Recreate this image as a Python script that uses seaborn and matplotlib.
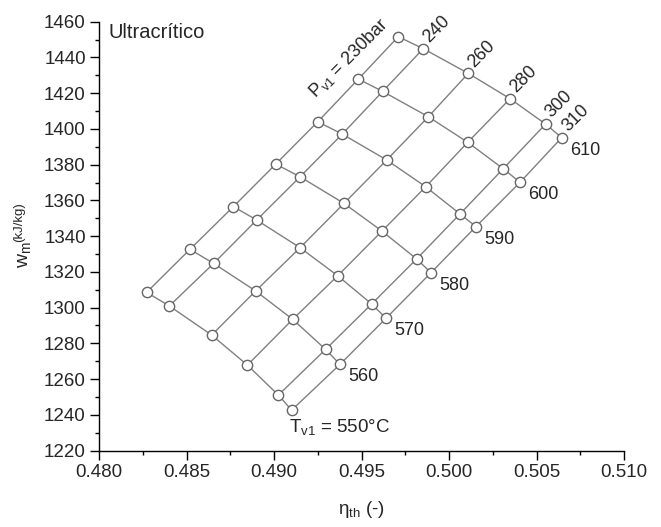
import numpy as np
import pandas as pd
import matplotlib
matplotlib.use("Agg")
import matplotlib.pyplot as plt
import seaborn as sns
from matplotlib.ticker import MultipleLocator, FormatStrFormatter

# pressao (bar) e temperatura (C) de entrada
pressures = [230, 240, 260, 280, 300, 310]
temps = [550, 560, 570, 580, 590, 600, 610]

# rendimento termico, uma linha por pressao (T de 550 a 610)
eta = [
    [0.48272, 0.48520, 0.48768, 0.49010, 0.49250, 0.49482, 0.49710],
    [0.48402, 0.48655, 0.48901, 0.49149, 0.49390, 0.49621, 0.49853],
    [0.48644, 0.48895, 0.49149, 0.49400, 0.49644, 0.49882, 0.50110],
    [0.48848, 0.49107, 0.49364, 0.49617, 0.49867, 0.50107, 0.50349],
    [0.49025, 0.49295, 0.49558, 0.49815, 0.50063, 0.50310, 0.50552],
    [0.49101, 0.49377, 0.49640, 0.49897, 0.50154, 0.50406, 0.50644],
]
# trabalho especifico (kJ/kg)
wm = [
    [1308.5, 1332.6, 1356.5, 1380.3, 1404.0, 1427.9, 1451.6],
    [1300.9, 1324.7, 1349.0, 1373.2, 1397.1, 1421.0, 1444.9],
    [1284.6, 1309.3, 1333.5, 1358.3, 1382.6, 1406.8, 1431.1],
    [1267.8, 1293.4, 1317.8, 1342.8, 1367.6, 1392.5, 1416.9],
    [1251.0, 1276.6, 1302.0, 1327.2, 1352.4, 1377.7, 1402.7],
    [1242.6, 1268.2, 1294.0, 1319.5, 1345.3, 1370.1, 1395.1],
]

rows = []
for i, p in enumerate(pressures):
    for j, t in enumerate(temps):
        rows.append({"P": p, "T": t, "eta": eta[i][j], "w": wm[i][j]})
df = pd.DataFrame(rows)

sns.set_style("ticks")
plt.rcParams["font.family"] = ["Liberation Sans", "DejaVu Sans"]
plt.rcParams["mathtext.fontset"] = "custom"
plt.rcParams["mathtext.rm"] = "Liberation Sans"
plt.rcParams["mathtext.it"] = "Liberation Sans"

W, H = 661, 527
fig, ax = plt.subplots(figsize=(W / 100, H / 100), dpi=100)
fig.subplots_adjust(left=99 / W, right=624 / W, top=1 - 21.7 / H, bottom=1 - 450.5 / H)

line_col = "#808080"
sns.lineplot(data=df, x="eta", y="w", units="P", estimator=None, sort=False,
             color=line_col, linewidth=1.0, ax=ax, legend=False)
sns.lineplot(data=df.sort_values(["T", "P"]), x="eta", y="w", units="T",
             estimator=None, sort=False, color=line_col, linewidth=1.0,
             ax=ax, legend=False)
sns.scatterplot(data=df, x="eta", y="w", s=55, color="white",
                edgecolor="#666666", linewidth=1.0, ax=ax, zorder=3,
                legend=False)

fs = 13
# rotulos das pressoes (ponta T = 610)
for i, p in enumerate(pressures[1:], start=1):
    ax.annotate(str(p), (eta[i][-1], wm[i][-1]), xytext=(6.5, 2),
                textcoords="offset points", rotation=45,
                rotation_mode="anchor", ha="left", va="bottom", fontsize=fs)
ax.text(0.49236, 1417, r"P$_{\mathrm{v1}}$ = 230bar", rotation=45,
        rotation_mode="anchor", ha="left", va="baseline", fontsize=fs)

# rotulos das temperaturas (ponta P = 310)
for j, t in enumerate(temps[1:], start=1):
    ax.annotate(str(t), (eta[-1][j], wm[-1][j]), xytext=(6, -9),
                textcoords="offset points", ha="left", va="center",
                fontsize=fs)
ax.annotate(r"T$_{\mathrm{v1}}$ = 550°C", (eta[-1][0], wm[-1][0]),
            xytext=(-2, -5), textcoords="offset points", ha="left",
            va="top", fontsize=13.5)

ax.text(0.48057, 1454, "Ultracrítico", ha="left", va="center", fontsize=14.5)

ax.set_xlim(0.480, 0.510)
ax.set_ylim(1220, 1460)
ax.xaxis.set_major_locator(MultipleLocator(0.005))
ax.xaxis.set_minor_locator(MultipleLocator(0.0025))
ax.yaxis.set_major_locator(MultipleLocator(20))
ax.yaxis.set_minor_locator(MultipleLocator(10))
ax.xaxis.set_major_formatter(FormatStrFormatter("%.3f"))
ax.tick_params(which="major", direction="out", length=6.5, width=1,
               labelsize=13.5, color="black", pad=3)
ax.tick_params(which="minor", direction="out", length=3.2, width=1,
               color="black")
for s in ["left", "bottom"]:
    ax.spines[s].set_color("black")
    ax.spines[s].set_linewidth(1.0)
sns.despine(ax=ax)

ax.set_xlabel(r"η$_{\mathrm{th}}$ (-)", fontsize=13.5, labelpad=13)
ax.set_ylabel("")
# rotulo do eixo y: "w" maior, unidades menores
fig.text(28 / W, 1 - 268 / H, r"w$_{\mathrm{m}}$", rotation=90,
         rotation_mode="anchor", ha="left", va="baseline", fontsize=14)
fig.text(22 / W, 1 - 242 / H, "(kJ/kg)", rotation=90,
         rotation_mode="anchor", ha="left", va="baseline", fontsize=9.5)

fig.savefig("out.png", dpi=100)
